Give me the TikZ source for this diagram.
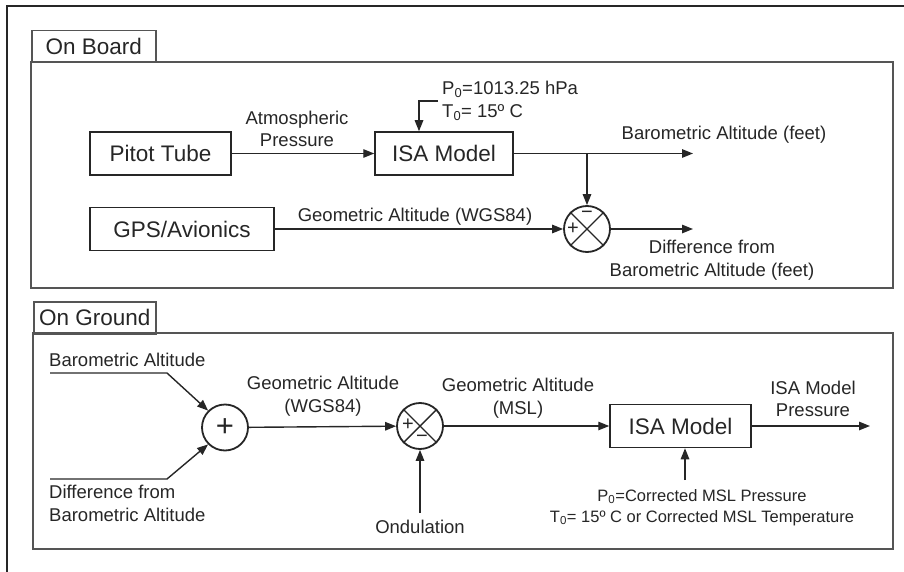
\documentclass[tikz,border=0pt]{standalone}
\usepackage{fontspec}
\setmainfont{Liberation Sans}
\definecolor{ink}{HTML}{262626}
\definecolor{frame}{HTML}{555555}
\usetikzlibrary{positioning, arrows.meta}

\begin{document}
\begin{tikzpicture}[x=1pt, y=-1pt,
  block/.style={draw=ink, line width=1.5pt, minimum height=43pt, inner sep=0pt,
                font=\fontsize{22.5}{26}\selectfont, text=ink},
  junction/.style={circle, draw=ink, line width=1.8pt, minimum size=46pt, inner sep=0pt},
  sign/.style={font=\fontsize{20}{20}\selectfont, text=ink, inner sep=0pt},
  lbl/.style={font=\fontsize{18.5}{22.5}\selectfont, text=ink, align=center, inner sep=0pt},
  note/.style={font=\fontsize{16.5}{21}\selectfont, text=ink, align=center, inner sep=0pt},
  tab/.style={draw=frame, line width=1.5pt, anchor=north west, minimum height=32pt,
              inner sep=0pt, font=\fontsize{22.5}{26}\selectfont, text=ink},
  panel/.style={draw=frame, line width=1.5pt},
  flow/.style={draw=ink, line width=1.4pt, -{Triangle[length=11pt,width=8.5pt]}},
  wire/.style={draw=ink, line width=1.4pt}
]
\useasboundingbox (0,0) rectangle (904,572);
\draw[ink, line width=2.8pt] (7,572) -- (7,6) -- (904,6);

% on board
\node[tab, minimum width=124pt] (tabBoard) at (31,30) {On Board};
\draw[panel] (31,62) rectangle (893,288);

\node[block, minimum width=141pt] (pitot) at (160.5,153.5) {Pitot Tube};
\node[block, minimum width=184pt] (gps) at (182,229) {GPS/Avionics};
\node[block, minimum width=138pt] (isa1) at (444,153.5) {ISA Model};
\node[junction] (s1) at (587,229) {};
\draw[wire] (s1.45) -- (s1.225) (s1.135) -- (s1.315);
\node[sign, yshift=14pt] (s1minus) at (s1) {−};
\node[sign, xshift=-14pt] (s1plus) at (s1) {+};

\node[lbl, anchor=west, align=left] (p0top) at (442,101)
  {P\textsubscript{0}=1013.25 hPa\\T\textsubscript{0}= 15º C};
\draw[flow] ([xshift=-4pt]p0top.west) -| ([xshift=-25pt]isa1.north);

\draw[flow] (pitot) -- (isa1);
\node[lbl] (atmLbl) at (297,129) {Atmospheric\\Pressure};

\coordinate (baroOut) at (693,153.5);
\draw[flow] (isa1) -- (baroOut);
\node[lbl] (baroLbl) at (724,135) {Barometric Altitude (feet)};
\draw[flow] (s1 |- isa1.east) -- (s1);

\draw[flow] (gps) -- (s1);
\node[lbl] (geoLbl) at (415,217) {Geometric Altitude (WGS84)};

\coordinate (diffOut) at (693,229);
\draw[flow] (s1) -- (diffOut);
\node[lbl] (diffLbl) at (712,260) {Difference from\\Barometric Altitude (feet)};

% on ground
\node[tab, minimum width=122pt] (tabGround) at (33,301) {On Ground};
\draw[panel] (33,333) rectangle (893,549);

\node[junction, font=\fontsize{31}{31}\selectfont, text=ink] (c1) at (225,427.5) {+};
\node[junction] (c2) at (420,426) {};
\draw[wire] (c2.45) -- (c2.225) (c2.135) -- (c2.315);
\node[sign, xshift=-12pt, yshift=1pt] (c2plus) at (c2) {+};
\node[sign, xshift=2pt, yshift=-13pt] (c2minus) at (c2) {−};
\node[block, minimum width=141pt] (isa2) at (680.5,426) {ISA Model};

\coordinate (baroIn) at (50,373);
\coordinate (baroBend) at (167,373);
\draw[flow] (baroIn) -- (baroBend) -- (c1.135);
\node[lbl, anchor=west] (baroInLbl) at (49,360) {Barometric Altitude};

\coordinate (diffIn) at (50,479);
\coordinate (diffBend) at (167,479);
\draw[flow] (diffIn) -- (diffBend) -- (c1.225);
\node[lbl, anchor=west, align=left] (diffInLbl) at (49,503.5) {Difference from\\Barometric Altitude};

\draw[flow] (c1) -- (c2);
\node[lbl] (wgsLbl) at (323,396) {Geometric Altitude\\(WGS84)};

\node[lbl] (ond) at (420,527) {Ondulation};
\draw[flow] ([yshift=7pt]ond.north) -- (c2);

\draw[flow] (c2) -- (isa2);
\node[lbl] (mslLbl) at (518,398) {Geometric Altitude\\(MSL)};

\coordinate (presOut) at (870,426);
\draw[flow] (isa2) -- (presOut);
\node[lbl] (presLbl) at (813,399) {ISA Model\\Pressure};

\node[note] (cond) at (702,507.5)
  {P\textsubscript{0}=Corrected MSL Pressure\\T\textsubscript{0}= 15º C or Corrected MSL Temperature};
\coordinate (condTop) at (685,480);
\draw[flow] (condTop) -- (condTop |- isa2.south);
\end{tikzpicture}
\end{document}
